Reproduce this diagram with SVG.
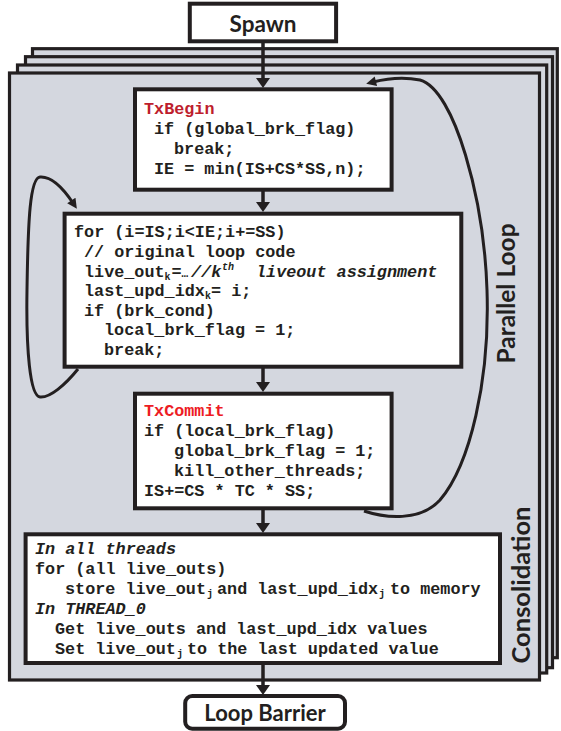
<svg xmlns="http://www.w3.org/2000/svg" width="561" height="731" viewBox="0 0 561 731">
  <style>
    .code{font-family:"Liberation Mono","Courier New",monospace;font-weight:bold;font-size:16.8px;fill:#231f20}
    .it{font-style:italic}
    .sub{font-size:10px}
    .lbl{font-family:Lato,"Open Sans",sans-serif;font-weight:bold;fill:#231f20}
    .box{fill:#ffffff;stroke:#231f20;stroke-width:4}
    .panel{fill:#d4d7df;stroke:#231f20;stroke-width:3.2}
    .edge{fill:none;stroke:#231f20;stroke-width:3.5}
    .loop{fill:none;stroke:#231f20;stroke-width:3}
  </style>
  <defs>
    <marker id="ah" viewBox="0 0 10 14" refX="2" refY="7" markerWidth="10" markerHeight="14" markerUnits="userSpaceOnUse" orient="auto">
      <path d="M0,0 L10,7 L0,14 z" fill="#231f20"/>
    </marker>
    <marker id="ahs" viewBox="0 0 10 10" refX="3" refY="5" markerWidth="11" markerHeight="10" markerUnits="userSpaceOnUse" orient="auto">
      <path d="M0,0 L10,5 L0,10 z" fill="#231f20"/>
    </marker>
  </defs>

  <!-- stacked thread panels, back to front -->
  <g id="panels">
    <rect class="panel" x="32.5" y="48.7" width="524.8" height="609"/>
    <rect class="panel" x="25.5" y="56.7" width="527" height="611"/>
    <rect class="panel" x="17.5" y="65" width="529.2" height="608"/>
    <rect class="panel" x="9.5" y="73" width="530" height="607"/>
  </g>

  <g id="label-parallel-loop">
    <text class="lbl" font-size="24.5" text-anchor="middle" transform="translate(515,293.5) rotate(-90)">Parallel Loop</text>
  </g>
  <g id="label-consolidation">
    <text class="lbl" font-size="25.5" text-anchor="middle" transform="translate(530,585) rotate(-90)">Consolidation</text>
  </g>

  <g id="connectors">
    <line class="edge" x1="263" y1="43" x2="263" y2="80" marker-end="url(#ah)"/>
    <line class="edge" x1="263" y1="191" x2="263" y2="204" marker-end="url(#ah)"/>
    <line class="edge" x1="263" y1="368" x2="263" y2="384" marker-end="url(#ah)"/>
    <line class="edge" x1="263" y1="510" x2="263" y2="525" marker-end="url(#ah)"/>
    <line class="edge" x1="263" y1="665" x2="263" y2="687" marker-end="url(#ah)"/>
    <!-- inner loop back edge -->
    <path class="loop" d="M 78,369 C 65,385 50,398 40,397 C 30,396 26,350 27,290 C 28,220 30,178 40,177 C 52,176 63,188 73,203" marker-end="url(#ahs)"/>
    <!-- next-chunk back edge -->
    <path class="loop" d="M 364,511 C 385,518 420,522 440,500 C 470,465 490,380 487,290 C 484,200 455,90 420,80 C 400,76 385,79 373,82" marker-end="url(#ahs)"/>
  </g>

  <g id="spawn">
    <rect class="box" x="189.8" y="3.7" width="146.3" height="37.6"/>
    <text class="lbl" font-size="22.5" x="263" y="32" text-anchor="middle">Spawn</text>
  </g>

  <g id="tx-begin">
    <rect class="box" x="135" y="89.3" width="256.6" height="100.4"/>
    <text class="code" x="144" y="114" style="fill:#be1e2d">TxBegin</text>
    <text class="code" x="154" y="134">if (global_brk_flag)</text>
    <text class="code" x="174" y="154">break;</text>
    <text class="code" x="154" y="174">IE = min(IS+CS*SS,n);</text>
  </g>

  <g id="loop-body">
    <rect class="box" x="64.6" y="213.7" width="396.7" height="153"/>
    <text class="code" x="74" y="237">for (i=IS;i&lt;IE;i+=SS)</text>
    <text class="code" x="84" y="257">// original loop code</text>
    <text class="code" y="276.5"><tspan x="84">live_out</tspan><tspan class="sub" x="164.5" y="279.5">k</tspan><tspan x="171.5" y="276.5">=</tspan><tspan x="181.5" font-size="11">…</tspan><tspan class="it" x="191">//k</tspan><tspan class="it sub" x="222" y="270">th</tspan><tspan class="it" x="256" y="276.5">liveout assignment</tspan></text>
    <text class="code" y="296"><tspan x="84">last_upd_idx</tspan><tspan class="sub" x="205" y="299">k</tspan><tspan x="211" y="296">= i;</tspan></text>
    <text class="code" x="84" y="315.5">if (brk_cond)</text>
    <text class="code" x="104" y="335">local_brk_flag = 1;</text>
    <text class="code" x="104" y="355">break;</text>
  </g>

  <g id="tx-commit">
    <rect class="box" x="135" y="393.7" width="256.6" height="114.6"/>
    <text class="code" x="144" y="416" style="fill:#ed1c24">TxCommit</text>
    <text class="code" x="144" y="436">if (local_brk_flag)</text>
    <text class="code" x="174" y="456">global_brk_flag = 1;</text>
    <text class="code" x="174" y="476">kill_other_threads;</text>
    <text class="code" x="144" y="496">IS+=CS * TC * SS;</text>
  </g>

  <g id="consolidate">
    <rect class="box" x="25.6" y="534.3" width="474.4" height="128.7"/>
    <text class="code it" x="35" y="554">In all threads</text>
    <text class="code" x="35" y="574">for (all live_outs)</text>
    <text class="code" y="594"><tspan x="65">store live_out</tspan><tspan class="sub" x="207" y="597">j</tspan><tspan x="217" y="594">and last_upd_idx</tspan><tspan class="sub" x="379" y="597">j</tspan><tspan x="390" y="594">to memory</tspan></text>
    <text class="code it" x="35" y="614">In THREAD_0</text>
    <text class="code" x="55" y="634">Get live_outs and last_upd_idx values</text>
    <text class="code" y="654"><tspan x="55">Set live_out</tspan><tspan class="sub" x="177" y="657">j</tspan><tspan x="187" y="654">to the last updated value</tspan></text>
  </g>

  <g id="loop-barrier">
    <rect class="box" x="185.2" y="696" width="159.8" height="32.7" rx="7"/>
    <text class="lbl" font-size="22" x="265" y="721" text-anchor="middle">Loop Barrier</text>
  </g>
</svg>
